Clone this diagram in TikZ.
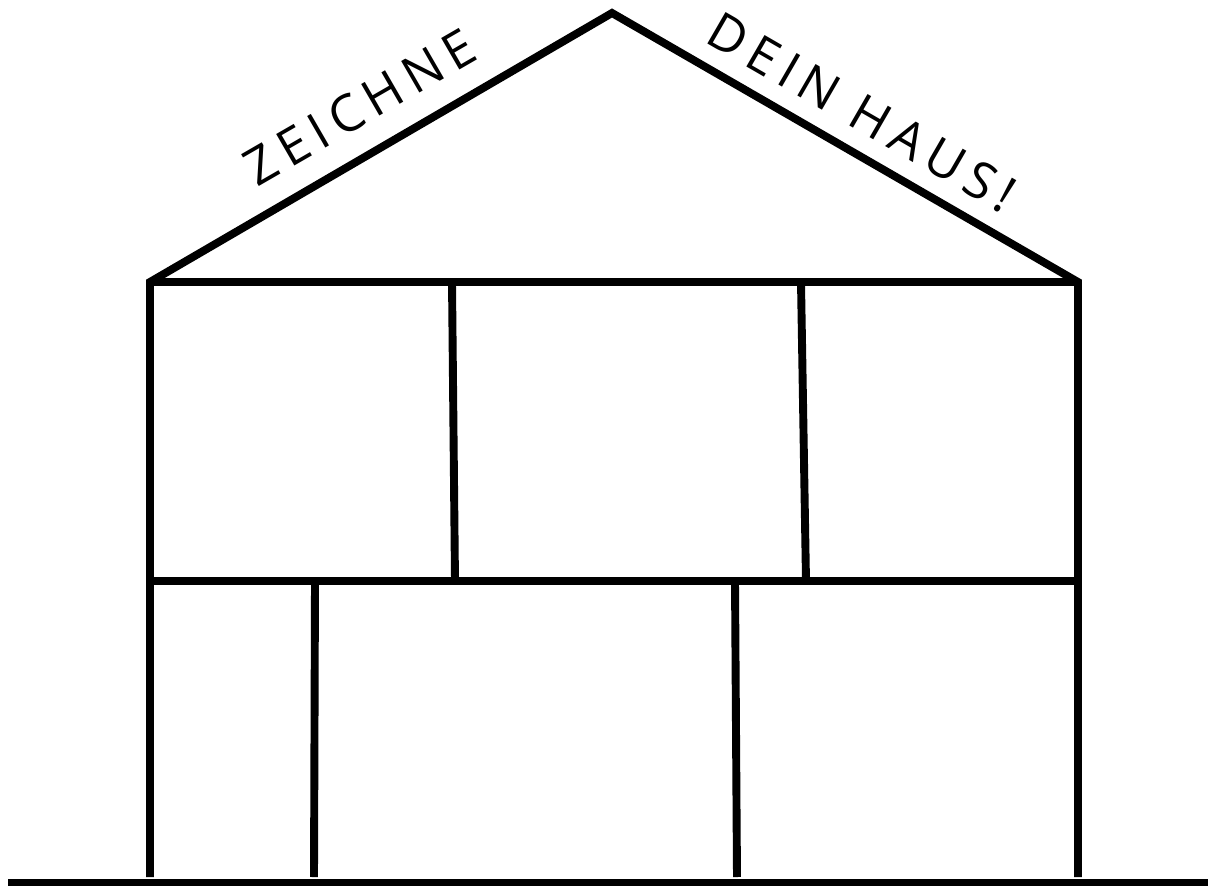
\documentclass[tikz,border=0pt]{standalone}
\usepackage{fontspec}
\setmainfont{Open Sans}[LetterSpace=16]
\usetikzlibrary{positioning}
\tikzset{
  wall/.style={line width=4.5pt, line join=miter, line cap=butt},
  ground/.style={line width=4.5pt},
  rooflabel/.style={font=\fontsize{29}{29}\selectfont, inner sep=0pt, anchor=center}
}

\begin{document}
\begin{tikzpicture}[x=0.02cm, y=-0.02cm]
  \useasboundingbox (0,0) rectangle (1208,886);
  % outline of the house
  \coordinate (apex) at (612,13);
  \coordinate (eaveL) at (150,282);
  \coordinate (eaveR) at (1078,282);
  \coordinate (midL) at (150,581);
  \coordinate (midR) at (1078,581);
  \coordinate (footL) at (150,877);
  \coordinate (footR) at (1078,877);
  \draw[wall] (footL) -- (eaveL) -- (apex) -- (eaveR) -- (footR);
  \draw[wall] (eaveL) -- (eaveR);
  \draw[wall] (midL) -- (midR);
  % rooms upstairs
  \coordinate (upA) at (452,282);
  \coordinate (upAb) at (455,581);
  \coordinate (upB) at (801,282);
  \coordinate (upBb) at (806,581);
  \draw[wall] (upA) -- (upAb);
  \draw[wall] (upB) -- (upBb);
  % rooms downstairs
  \coordinate (dnA) at (315,581);
  \coordinate (dnAb) at (314,877);
  \coordinate (dnB) at (735,581);
  \coordinate (dnBb) at (737,877);
  \draw[wall] (dnA) -- (dnAb);
  \draw[wall] (dnB) -- (dnBb);
  % ground
  \coordinate (gndL) at (8,883);
  \coordinate (gndR) at (1208,883);
  \draw[ground] (gndL) -- (gndR);
  % labels along the roof
  \node[rooflabel, rotate=30] (left) at (360,107) {ZEICHNE};
  \node[rooflabel, rotate=-30] (right) at (862,112) {DEIN HAUS!};
\end{tikzpicture}
\end{document}
